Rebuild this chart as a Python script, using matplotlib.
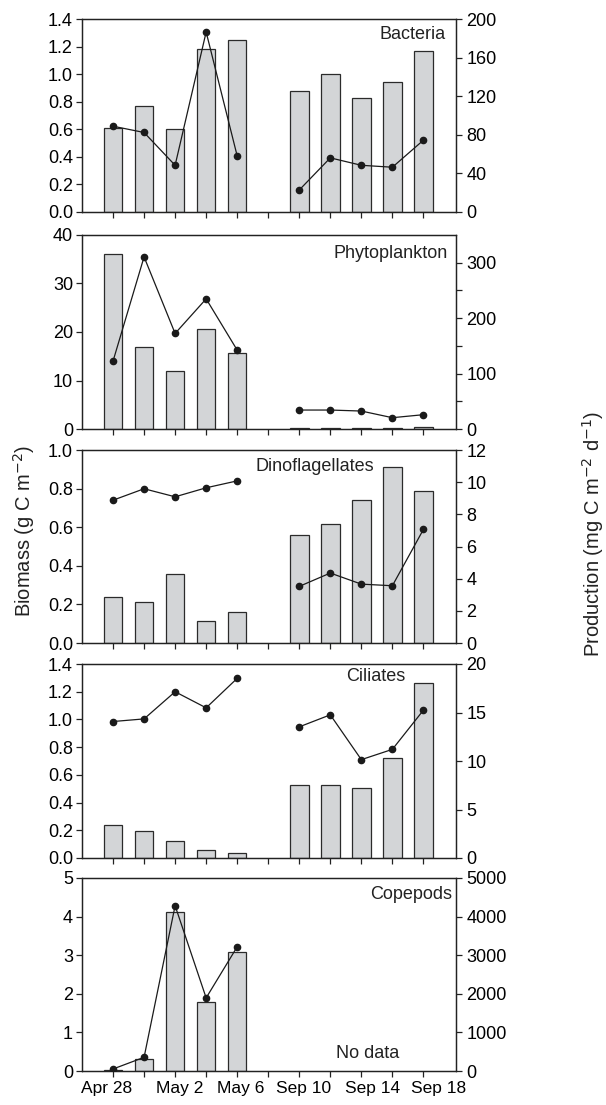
import numpy as np
import matplotlib
matplotlib.use("Agg")
import matplotlib.pyplot as plt

plt.rcParams['font.family'] = ['Liberation Sans', 'DejaVu Sans']
plt.rcParams['font.size'] = 12

# sampling days: 0-4 spring, 5 = gap, 6-10 autumn
days = list(range(11))
date_labels = ['Apr 28', 'May 2', 'May 6', 'Sep 10', 'Sep 14', 'Sep 18']

groups = ['Bacteria', 'Phytoplankton', 'Dinoflagellates', 'Ciliates', 'Copepods']

# biomass (g C m-2)
bac_bio = [0.61, 0.77, 0.605, 1.185, 1.25, None, 0.875, 0.998, 0.83, 0.945, 1.17]
phy_bio = [36.0, 17.0, 11.9, 20.6, 15.6, None, 0.3, 0.3, 0.2, 0.15, 0.4]
din_bio = [0.238, 0.215, 0.358, 0.115, 0.162, None, 0.558, 0.617, 0.742, 0.91, 0.787]
cil_bio = [0.239, 0.193, 0.126, 0.056, 0.036, None, 0.529, 0.529, 0.507, 0.719, 1.262]
cop_bio = [0.03, 0.32, 4.11, 1.80, 3.08, None, None, None, None, None, None]

# production (mg C m-2 d-1)
bac_prod = [88.9, 82.4, 48.4, 186.5, 58.1, None, 22.8, 56.1, 48.4, 46.4, 74.4]
phy_prod = [122.5, 310.5, 172.4, 234.8, 142.3, None, 34.2, 34.2, 32.4, 20.4, 25.8]
din_prod = [8.88, 9.59, 9.09, 9.65, 10.08, None, 3.52, 4.35, 3.66, 3.56, 7.06]
cil_prod = [14.07, 14.34, 17.14, 15.48, 18.52, None, 13.52, 14.76, 10.14, 11.2, 15.24]
cop_prod = [52, 355, 4282, 1894, 3218, None, None, None, None, None, None]

biomass = [bac_bio, phy_bio, din_bio, cil_bio, cop_bio]
production = [bac_prod, phy_prod, din_prod, cil_prod, cop_prod]

left_lim = [1.4, 40, 1.0, 1.4, 5]
left_ticks = [np.arange(0, 1.41, 0.2), np.arange(0, 41, 10), np.arange(0, 1.01, 0.2),
              np.arange(0, 1.41, 0.2), np.arange(0, 6, 1)]
left_fmt = ['%.1f', '%d', '%.1f', '%.1f', '%d']
right_lim = [200, 350, 12, 20, 5000]
right_ticks = [np.arange(0, 201, 40), np.arange(0, 301, 50), np.arange(0, 13, 2),
               np.arange(0, 21, 5), np.arange(0, 5001, 1000)]

def num(v):
    return np.array([np.nan if x is None else x for x in v], dtype=float)

fig = plt.figure(figsize=(6.06, 11.05), dpi=100)

# axes rectangles (pixel tops/bottoms of each panel)
tops = [19, 235, 450, 664, 878]
bots = [212, 429, 643, 858, 1071]
W, H = 606., 1105.
x0, x1 = 82, 456

text_pos = [(0.973, 0.922, 'right'), (0.979, 0.907, 'right'), (0.623, 0.917, 'center'),
            (0.786, 0.933, 'center'), (0.989, 0.912, 'right')]

bar_col = '#d3d5d7'
edge_col = '#2b2b2b'
ink = '#222222'

for i in range(5):
    rect = [x0 / W, 1 - bots[i] / H, (x1 - x0) / W, (bots[i] - tops[i]) / H]
    ax = fig.add_axes(rect)
    b = num(biomass[i])
    ok = ~np.isnan(b)
    ax.bar(np.array(days)[ok], b[ok], width=0.6, color=bar_col, edgecolor=edge_col,
           linewidth=0.9, zorder=2)
    ax.set_xlim(-1.0, 11.05)
    ax.set_ylim(0, left_lim[i])
    ax.set_yticks(left_ticks[i])
    ax.set_yticklabels([left_fmt[i] % t for t in left_ticks[i]])
    ax.set_xticks(days)
    if i == 4:
        ax.set_xticks([-0.2, 2.15, 4.1, 6.15, 8.35, 10.5], minor=True)
        ax.set_xticklabels(date_labels, minor=True)
        ax.tick_params(axis='x', which='minor', length=0, pad=7, labelsize=12.5)
    ax.set_xticklabels([])
    ax.tick_params(axis='both', which='major', direction='out', length=4.5, width=0.9,
                   labelsize=13, pad=2, color=ink)
    for s in ax.spines.values():
        s.set_linewidth(0.9)
        s.set_color(ink)

    ax2 = ax.twinx()
    p = num(production[i])
    ax2.plot(days, p, color='#1a1a1a', linewidth=0.9, marker='o', markersize=4.5, zorder=3)
    ax2.set_ylim(0, right_lim[i])
    ax2.set_yticks(right_ticks[i])
    if i == 1:
        ax2.set_yticklabels(['%d' % t if t % 100 == 0 else '' for t in right_ticks[i]])
    else:
        ax2.set_yticklabels(['%d' % t for t in right_ticks[i]])
    ax2.tick_params(axis='y', direction='out', length=4.5, width=0.9, labelsize=13, pad=3,
                    color=ink)
    for s in ax2.spines.values():
        s.set_linewidth(0.9)
        s.set_color(ink)

    tx, ty, ha = text_pos[i]
    ax.text(tx, ty, groups[i], transform=ax.transAxes, ha=ha, va='center', fontsize=13,
            color=ink)
    if i == 4:
        ax.text(0.765, 0.093, 'No data', transform=ax.transAxes, ha='center', va='center',
                fontsize=13, color=ink)

fig.text(24 / W, 1 - 531 / H, 'Biomass (g C m$^{-2}$)', rotation=90, ha='center', va='center',
         fontsize=14.5, color=ink)
fig.text(593 / W, 1 - 534 / H, 'Production (mg C m$^{-2}$ d$^{-1}$)', rotation=90, ha='center',
         va='center', fontsize=14.5, color=ink)

fig.savefig('out.png', dpi=100)
